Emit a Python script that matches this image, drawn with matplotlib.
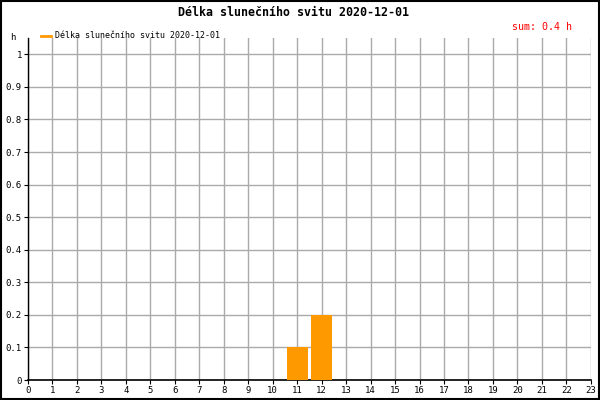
import matplotlib.pyplot as plt
from matplotlib.lines import Line2D

hours = list(range(24))
sunshine = [0, 0, 0, 0, 0, 0, 0, 0, 0, 0, 0, 0.1, 0.2, 0, 0, 0, 0, 0, 0, 0, 0, 0, 0, 0]
y_ticks = [0, 0.1, 0.2, 0.3, 0.4, 0.5, 0.6, 0.7, 0.8, 0.9, 1]
y_labels = ["0", "0.1", "0.2", "0.3", "0.4", "0.5", "0.6", "0.7", "0.8", "0.9", "1"]
title = "Délka slunečního svitu 2020-12-01"
total = "sum: 0.4 h"

plt.rcParams['font.family'] = ['DejaVu Sans Mono']

fig = plt.figure(figsize=(6, 4), dpi=100)
ax = fig.add_axes([0.0467, 0.05, 0.938, 0.855])

# sloupce pro jednotlive hodiny
ax.bar(hours, sunshine, width=0.85, color="#ff9900", zorder=3)

ax.set_xlim(0, 23)
ax.set_ylim(0, 1.05)
ax.set_xticks(range(24))
ax.set_xticklabels([str(h) for h in range(24)], fontsize=6.5)
ax.set_yticks(y_ticks)
ax.set_yticklabels(y_labels, fontsize=6.5)
ax.tick_params(axis='both', length=3, width=0.8, pad=1.5)
ax.grid(True, color="#aaaaaa", linewidth=1, zorder=0)

for side in ("top", "right"):
    ax.spines[side].set_visible(False)
ax.spines["left"].set_linewidth(1)
ax.spines["bottom"].set_linewidth(1.2)

fig.text(0.49, 0.97, title, ha="center", va="center", fontsize=8.4, fontweight="bold")
fig.text(0.953, 0.933, total, ha="right", va="center", fontsize=7.2, color="red")
fig.text(0.022, 0.905, "h", ha="center", va="center", fontsize=6.5)

handle = Line2D([], [], color="#ff9900", linewidth=2)
fig.legend([handle], [title], loc="center left", bbox_to_anchor=(0.055, 0.91),
           frameon=False, fontsize=6, handlelength=1.2, handletextpad=0.5)

# ramecek kolem obrazku
fig.patches.append(plt.Rectangle((0.001, 0.002), 0.997, 0.996, transform=fig.transFigure,
                                 fill=False, edgecolor="black", linewidth=1.5))

fig.savefig("out.png", dpi=100)
